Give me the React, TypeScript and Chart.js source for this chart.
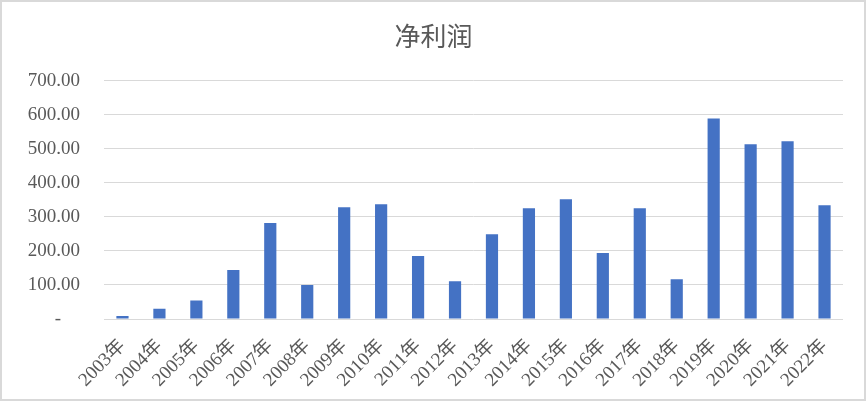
import React, { useEffect, useRef } from 'react';
import Chart from 'chart.js/auto';

// categories and values
const years = [
  '2003年', '2004年', '2005年', '2006年', '2007年', '2008年', '2009年',
  '2010年', '2011年', '2012年', '2013年', '2014年', '2015年', '2016年',
  '2017年', '2018年', '2019年', '2020年', '2021年', '2022年',
];
const netProfit = [
  9, 30, 54, 144, 282, 100, 328, 337, 185, 111,
  249, 325, 352, 194, 325, 117, 589, 513, 522, 334,
];
const yMin = 0;
const yMax = 700;
const yStep = 100;

const textGray = '#595959';
const gridGray = '#d9d9d9';
const tickFont = '"Liberation Serif", "Noto Sans CJK SC", serif';

// white page and the thin frame round the chart
const framePlugin = {
  id: 'frame',
  beforeDraw(chart: Chart) {
    const { ctx, width, height } = chart;
    ctx.save();
    ctx.fillStyle = '#ffffff';
    ctx.fillRect(0, 0, width, height);
    ctx.restore();
  },
  afterDraw(chart: Chart) {
    const { ctx, width, height } = chart;
    ctx.save();
    ctx.strokeStyle = gridGray;
    ctx.lineWidth = 2;
    ctx.strokeRect(1, 1, width - 3, height - 3);
    ctx.restore();
  },
};

const ProfitChart: React.FC = () => {
  const chartRef = useRef<HTMLCanvasElement>(null);

  useEffect(() => {
    if (!chartRef.current) return;
    const ctx = chartRef.current.getContext('2d');
    if (!ctx) return;

    const chart = new Chart(ctx, {
      type: 'bar',
      data: {
        labels: years,
        datasets: [
          {
            label: '净利润',
            data: netProfit,
            backgroundColor: '#4472c4',
            categoryPercentage: 1,
            barPercentage: 0.33,
          },
        ],
      },
      options: {
        responsive: false,
        animation: false,
        layout: { padding: { left: 24, right: 24, top: 0, bottom: 0 } },
        plugins: {
          legend: { display: false },
          tooltip: { enabled: false },
          title: {
            display: true,
            text: '净利润',
            color: textGray,
            font: { family: '"Noto Sans CJK SC", sans-serif', size: 26, weight: 'normal', lineHeight: 1.2 },
            padding: { top: 21, bottom: 28.5 },
          },
        },
        scales: {
          x: {
            grid: { display: false },
            border: { display: false },
            ticks: {
              color: textGray,
              font: { family: tickFont, size: 19 },
              maxRotation: 45,
              minRotation: 45,
              autoSkip: false,
              padding: 8,
            },
            afterFit: (scale: any) => {
              scale.height = 83;
            },
          },
          y: {
            min: yMin,
            max: yMax,
            grid: { color: gridGray, lineWidth: 1, drawTicks: false },
            border: { display: false },
            ticks: {
              stepSize: yStep,
              color: textGray,
              font: { family: tickFont, size: 19 },
              padding: 24,
              callback: (value: any) => (Number(value) === 0 ? '-    ' : Number(value).toFixed(2)),
            },
            afterFit: (scale: any) => {
              scale.width = 80;
            },
          },
        },
      },
      plugins: [framePlugin],
    });

    return () => {
      chart.destroy();
    };
  }, []);

  return <canvas ref={chartRef} width={867} height={402}></canvas>;
};

const App: React.FC = () => (
  <div style={{ position: 'absolute', left: 0, top: 0, width: 867, height: 402 }}>
    <ProfitChart />
  </div>
);

export default App;
